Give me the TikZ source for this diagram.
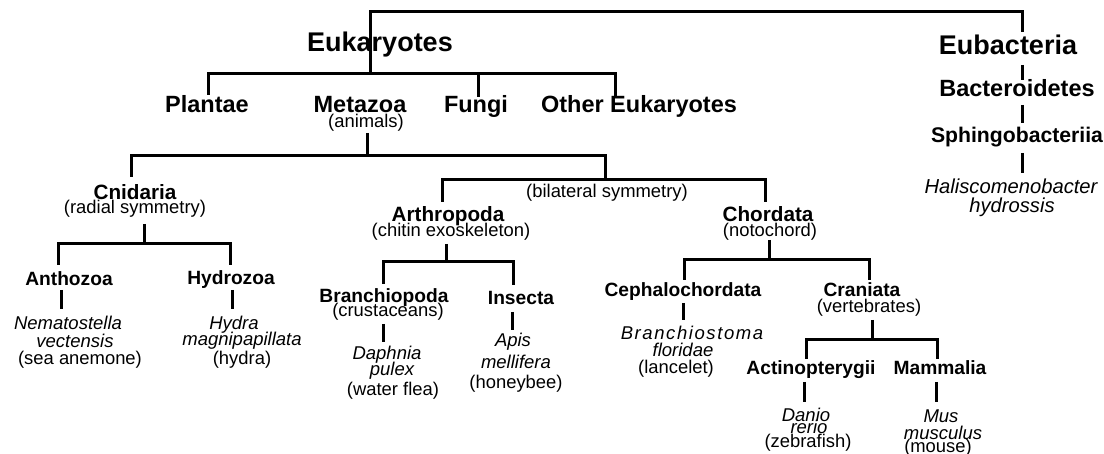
\documentclass[tikz,border=0pt]{standalone}
\usepackage{fontspec}
\setmainfont{Liberation Sans}
\newfontfamily\spacedfont[LetterSpace=8.6]{Liberation Sans}

\tikzset{
  every node/.style={anchor=base, inner sep=0pt},
  kingdom/.style={font=\fontsize{27}{30}\selectfont\bfseries},
  group/.style={font=\fontsize{23.5}{26}\selectfont\bfseries},
  clade/.style={font=\fontsize{20.7}{23}\selectfont\bfseries},
  taxon/.style={font=\fontsize{19.2}{21}\selectfont\bfseries},
  remark/.style={font=\fontsize{18.4}{20}\selectfont},
  species/.style={font=\fontsize{18.5}{20}\selectfont\itshape},
  link/.style={line width=3pt},
}

\begin{document}
\begin{tikzpicture}[x=1pt, y=-1pt]
  \useasboundingbox (0,0) rectangle (1104,454);

  % top level
  \node[kingdom] (euk) at (380,52) {Eukaryotes};
  \node[kingdom] (eub) at (1008,55) {Eubacteria};

  % eukaryote groups
  \node[group] (plantae) at (207,113) {Plantae};
  \node[group] (metazoa) at (360,113) {Metazoa};
  \node[remark] (animals) at (366,128) {(animals)};
  \node[group] (fungi) at (476,113) {Fungi};
  \node[group] (other) at (639,113) {Other Eukaryotes};

  % bacteria chain
  \node[group] (bacter) at (1017,97) {Bacteroidetes};
  \node[clade, font=\fontsize{21.2}{23}\selectfont\bfseries] (sphingo) at (1017,143) {Sphingobacteriia};
  \node[species, font=\fontsize{20.2}{22}\selectfont\itshape] (halis1) at (1011,194) {Haliscomenobacter};
  \node[species, font=\fontsize{20.2}{22}\selectfont\itshape] (halis2) at (1012,213) {hydrossis};

  % animals
  \node[clade] (cnid) at (135,200) {Cnidaria};
  \node[remark] (radial) at (135,214) {(radial symmetry)};
  \node[remark] (bilat) at (607,198) {(bilateral symmetry)};
  \node[clade] (arthro) at (448,222) {Arthropoda};
  \node[remark] (chitin) at (451,237) {(chitin exoskeleton)};
  \node[clade] (chord) at (768,222) {Chordata};
  \node[remark] (noto) at (770,237) {(notochord)};

  % cnidarians
  \node[taxon] (antho) at (69,286) {Anthozoa};
  \node[taxon] (hydro) at (231,285) {Hydrozoa};
  \node[species] (nema1) at (68,330) {Nematostella};
  \node[species] (nema2) at (75,348) {vectensis};
  \node[remark] (nema3) at (80,365) {(sea anemone)};
  \node[species] (hydra1) at (234,330) {Hydra};
  \node[species] (hydra2) at (242,346) {magnipapillata};
  \node[remark] (hydra3) at (242,365) {(hydra)};

  % arthropods
  \node[taxon] (branch) at (384,303) {Branchiopoda};
  \node[remark] (crust) at (388,317) {(crustaceans)};
  \node[taxon] (insect) at (521,305) {Insecta};
  \node[species] (daph1) at (387,360) {Daphnia};
  \node[species] (daph2) at (392,376) {pulex};
  \node[remark] (daph3) at (393,396) {(water flea)};
  \node[species] (apis1) at (513,347) {Apis};
  \node[species] (apis2) at (516,369) {mellifera};
  \node[remark] (apis3) at (516,389) {(honeybee)};

  % chordates
  \node[taxon] (cephal) at (683,297) {Cephalochordata};
  \node[species, font=\fontsize{18.5}{20}\selectfont\spacedfont\itshape] (bran1) at (692,340) {Branchiostoma};
  \node[species] (bran2) at (683,357) {floridae};
  \node[remark] (bran3) at (676,374) {(lancelet)};
  \node[taxon] (crani) at (862,297) {Craniata};
  \node[remark] (verteb) at (869,313) {(vertebrates)};
  \node[taxon] (actino) at (811,375) {Actinopterygii};
  \node[taxon] (mamm) at (940,375) {Mammalia};
  \node[species] (danio1) at (806,421) {Danio};
  \node[species] (danio2) at (809,434) {rerio};
  \node[remark] (danio3) at (808,447) {(zebrafish)};
  \node[species] (mus1) at (941,423) {Mus};
  \node[species] (mus2) at (943,439) {musculus};
  \node[remark] (mus3) at (938,453) {(mouse)};

  % junction points
  \coordinate (eukJ) at (370,74);
  \coordinate (rootR) at (1022,12);
  \coordinate (eubT) at (1022,32);
  \coordinate (plaT) at (208,95);
  \coordinate (funT) at (478,97);
  \coordinate (othT) at (615,97);
  \coordinate (metB) at (367,133);
  \coordinate (metJ) at (367,156);
  \coordinate (cniT) at (131,177);
  \coordinate (bilJ) at (605,180);
  \coordinate (artT) at (442,202);
  \coordinate (choT) at (765,202);
  \coordinate (cniB) at (144,224);
  \coordinate (cniJ) at (144,244);
  \coordinate (antT) at (58,265);
  \coordinate (hydT) at (230,265);
  \coordinate (artB) at (446,244);
  \coordinate (artJ) at (446,262);
  \coordinate (brT) at (383,284);
  \coordinate (insT) at (513,285);
  \coordinate (choB) at (769,240);
  \coordinate (choJ) at (769,260);
  \coordinate (cepT) at (684,280);
  \coordinate (craT) at (869,280);
  \coordinate (craB) at (872,320);
  \coordinate (craJ) at (872,340);
  \coordinate (actT) at (806,359);
  \coordinate (mamT) at (937,359);

  % leaf ends
  \coordinate (antB) at (61,290);   \coordinate (nemaT) at (61,309);
  \coordinate (hydB) at (232,290);  \coordinate (hydraT) at (232,309);
  \coordinate (brB) at (383,324);   \coordinate (daphT) at (383,342);
  \coordinate (insB) at (512,312);  \coordinate (apisT) at (512,330);
  \coordinate (cepB) at (683,303);  \coordinate (branT) at (683,320);
  \coordinate (actB) at (804,382);  \coordinate (danioT) at (804,402);
  \coordinate (mamB) at (936,382);  \coordinate (musT) at (936,402);
  \coordinate (eubB) at (1022,65);  \coordinate (bacT) at (1022,80);
  \coordinate (bacB) at (1022,105); \coordinate (sphT) at (1022,123);
  \coordinate (sphB) at (1022,153); \coordinate (halT) at (1022,173);

  % tree lines
  \draw[link] (eukJ) |- (rootR) -- (eubT);
  \draw[link] (plaT) |- (eukJ) -| (othT);
  \draw[link] (funT) -- (funT |- eukJ);
  \draw[link] (metB) -- (metJ);
  \draw[link] (cniT) |- (metJ) -| (bilJ);
  \draw[link] (artT) |- (bilJ) -| (choT);
  \draw[link] (cniB) -- (cniJ);
  \draw[link] (antT) |- (cniJ) -| (hydT);
  \draw[link] (artB) -- (artJ);
  \draw[link] (brT) |- (artJ) -| (insT);
  \draw[link] (choB) -- (choJ);
  \draw[link] (cepT) |- (choJ) -| (craT);
  \draw[link] (craB) -- (craJ);
  \draw[link] (actT) |- (craJ) -| (mamT);

  % leaf lines
  \draw[link] (antB) -- (nemaT);
  \draw[link] (hydB) -- (hydraT);
  \draw[link] (brB) -- (daphT);
  \draw[link] (insB) -- (apisT);
  \draw[link] (cepB) -- (branT);
  \draw[link] (actB) -- (danioT);
  \draw[link] (mamB) -- (musT);
  \draw[link] (eubB) -- (bacT);
  \draw[link] (bacB) -- (sphT);
  \draw[link] (sphB) -- (halT);
\end{tikzpicture}
\end{document}
